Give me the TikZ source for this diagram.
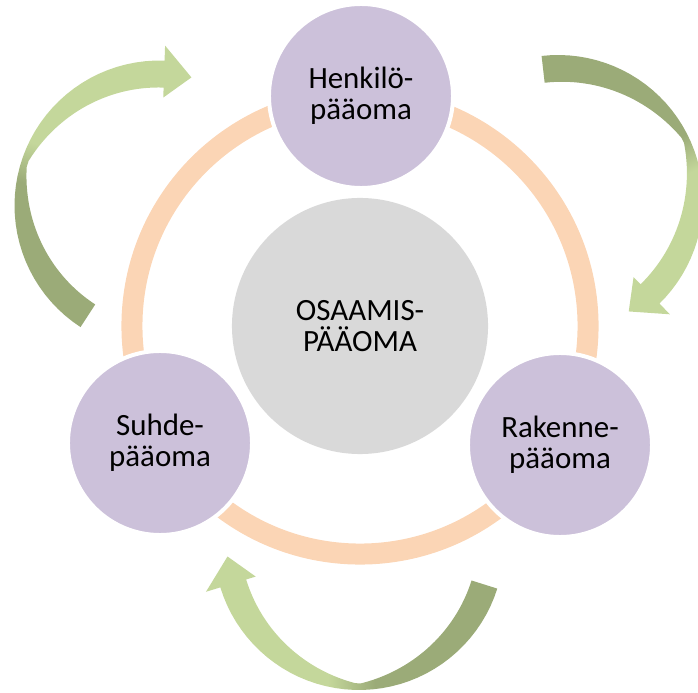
\documentclass[tikz,border=0pt]{standalone}
\usepackage{fontspec}
\setmainfont{Carlito}
\definecolor{laventeli}{HTML}{CCC1DA}
\definecolor{harmaa}{HTML}{D9D9D9}
\definecolor{persikka}{HTML}{FBD5B5}
\definecolor{tumma}{HTML}{9BAB78}
\definecolor{vaalea}{HTML}{C4D79B}
\pgfdeclareverticalshading{vihrea}{100bp}{color(0bp)=(tumma); color(46bp)=(tumma);
  color(54bp)=(vaalea); color(100bp)=(vaalea)}
\tikzset{
  pallo/.style={circle,fill=laventeli,draw=white,line width=1mm,minimum size=4.6cm,
                inner sep=0pt,align=center},
  keskus/.style={circle,fill=harmaa,minimum size=6.4cm,inner sep=0pt,align=center},
  rengas/.style={draw=persikka,line width=5.25mm},
  nuoli/.style={shade,shading=vihrea},
}

\begin{document}
\begin{tikzpicture}[x=0.025cm,y=0.025cm,font={\fontsize{22}{22}\selectfont}]
  \useasboundingbox (0,0) rectangle (698,692);
  % keskipallo ja rengas
  \node[keskus] (osaaminen) at (360,366) {OSAAMIS-\\PÄÄOMA};
  \draw[rengas] (osaaminen.center) circle[radius=5.7cm];
  % paaomat
  \node[pallo] (henkilo) at (361,596) {Henkilö-\\pääoma};
  \node[pallo] (suhde) at (160,249) {Suhde-\\pääoma};
  \node[pallo] (rakenne) at (560,247) {Rakenne-\\pääoma};
  % nuolet
  \foreach \cx/\cy/\ta/\tb/\kulma in {159.5/486.5/237/88/-17.5, 558/492/96.5/-45.6/-154.5,
                                      359/147/342.5/197/90}{
    \pgfmathsetmacro\keski{(\ta+\tb)/2}
    \pgfmathsetmacro\puoli{(\ta-\tb)/2}
    \begin{scope}[shift={(\cx,\cy)}]
      \shade[nuoli,shading angle=\kulma] plot[domain=\ta:\tb,samples=40,variable=\t] (\t:145)
        -- (\tb:160) -- ({\tb-12}:132) -- (\tb:108)
        -- plot[domain=\tb:\ta,samples=60,variable=\t] (\t:{118+21*(1-abs(\t-\keski)/\puoli)^2})
        -- cycle;
    \end{scope}
  }
\end{tikzpicture}
\end{document}
